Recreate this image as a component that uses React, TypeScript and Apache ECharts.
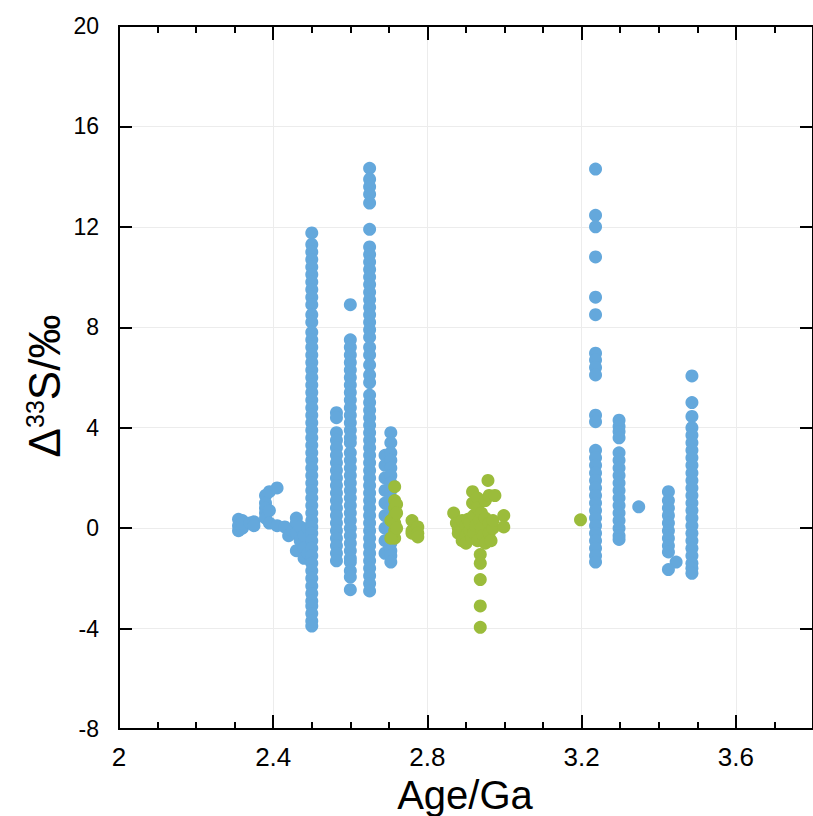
import React, { useEffect, useRef } from "react";
import * as echarts from "echarts";

// Δ33S (‰) against age (Ga)
const blueScattered: [number, number][] = [
  [2.31, 0.35], [2.31, 0.1], [2.31, -0.1], [2.32, 0.3], [2.32, 0.0], [2.32, 0.2],
  [2.34, 0.2], [2.35, 0.25], [2.35, 0.1],
  [2.38, 1.3], [2.38, 1.0], [2.38, 0.8], [2.38, 0.6], [2.38, 0.4],
  [2.39, 1.45], [2.39, 0.7], [2.39, 0.2], [2.41, 1.6],
  [2.41, 0.1], [2.43, 0.05], [2.44, -0.3], [2.45, -0.1],
  [2.46, 0.4], [2.46, 0.2], [2.46, -0.2], [2.46, -0.9], [2.47, -0.5], [2.47, 0.05],
  [2.48, -0.3], [2.48, -0.8], [2.48, -1.2], [2.49, -1.0], [2.49, 0.0],
  [3.348, 0.85], [3.445, -1.35],
];

const blue250 = [
  11.76, 11.3, 11.0, 10.7, 10.4, 10.1, 9.8, 9.5, 9.2, 8.9, 8.5, 8.2, 7.8, 7.5, 7.2,
  6.9, 6.6, 6.3, 6.0, 5.7, 5.4, 5.1, 4.8, 4.5, 4.2, 3.9, 3.6, 3.3, 3.0, 2.7, 2.4,
  2.1, 1.8, 1.5, 1.2, 0.9, 0.6, 0.3, 0.05, -0.2, -0.5, -0.8, -1.1, -1.4, -1.7,
  -2.0, -2.3, -2.6, -2.9, -3.1, -3.4, -3.7, -3.9,
];
const blue256 = [
  4.6, 4.4, 3.8, 3.5, 3.2, 2.9, 2.6, 2.3, 2.0, 1.7, 1.4, 1.1, 0.8, 0.5, 0.2, -0.1,
  -0.4, -0.7, -1.0, -1.3,
];
const blue260 = [
  8.9, 7.5, 7.2, 6.9, 6.6, 6.3, 6.0, 5.7, 5.4, 5.1, 4.8, 4.5, 4.2, 3.9, 3.6, 3.4,
  3.0, 2.7, 2.4, 2.1, 1.8, 1.5, 1.2, 0.9, 0.6, 0.3, 0.0, -0.3, -0.6, -0.9, -1.2,
  -1.35, -1.7, -1.95, -2.45,
];
const blue265 = [
  14.33, 13.9, 13.6, 13.3, 12.95, 11.9, 11.2, 10.9, 10.6, 10.3, 10.0, 9.7, 9.4,
  9.1, 8.8, 8.5, 8.2, 7.9, 7.6, 7.2, 6.9, 6.5, 6.1, 5.8, 5.3, 5.0, 4.7, 4.4, 4.1,
  3.8, 3.5, 3.2, 2.9, 2.6, 2.3, 2.0, 1.7, 1.4, 1.1, 0.8, 0.5, 0.2, -0.1, -0.4,
  -0.7, -1.0, -1.3, -1.6, -1.9, -2.2, -2.5,
];
const blue269 = [2.9, 2.5, 2.0, 1.5, 1.0, 0.5, 0.0, -0.5, -1.0];
const blue270 = [
  3.8, 3.4, 3.0, 2.7, 2.4, 2.1, 1.8, 1.5, 1.2, 0.9, 0.6, 0.3, 0.0, -0.3, -0.6,
  -0.9, -1.1, -1.35,
];
const blue324 = [
  14.3, 12.46, 12.0, 10.8, 9.2, 8.5, 6.97, 6.7, 6.4, 6.1, 4.5, 4.24, 3.1, 2.8,
  2.5, 2.2, 1.9, 1.6, 1.3, 1.0, 0.7, 0.4, 0.1, -0.2, -0.5, -0.8, -1.1, -1.35,
];
const blue330 = [
  4.3, 4.05, 3.85, 3.6, 3.0, 2.7, 2.4, 2.1, 1.8, 1.5, 1.2, 0.9, 0.6, 0.3, 0.0,
  -0.3, -0.45,
];
const blue343 = [1.45, 1.1, 0.8, 0.5, 0.2, -0.1, -0.4, -0.7, -0.95, -1.65];
const blue349 = [
  6.06, 5.0, 4.45, 4.0, 3.7, 3.4, 3.1, 2.8, 2.5, 2.2, 1.9, 1.6, 1.3, 1.0, 0.7,
  0.4, 0.1, -0.2, -0.5, -0.8, -1.1, -1.4, -1.6, -1.8,
];

const greenPoints: [number, number][] = [
  [2.715, 1.65], [2.715, 1.1], [2.715, 0.8], [2.715, 0.5], [2.715, 0.2],
  [2.715, -0.1], [2.715, -0.4], [2.705, 0.3], [2.705, -0.4], [2.72, 0.95],
  [2.72, 0.6], [2.72, 0.0],
  [2.76, 0.3], [2.76, -0.1], [2.76, -0.2], [2.775, 0.05], [2.775, -0.2], [2.775, -0.35],
  [2.868, 0.6], [2.875, 0.2], [2.88, 0.0], [2.88, -0.2], [2.89, -0.5], [2.89, 0.3],
  [2.9, 0.1], [2.9, -0.3], [2.9, -0.6], [2.905, 0.35], [2.91, -0.1], [2.91, 0.2],
  [2.915, -0.4], [2.917, 1.45], [2.917, 1.0], [2.92, 0.5], [2.92, -0.2],
  [2.925, 0.1], [2.93, 1.2], [2.93, 0.8], [2.93, -0.5], [2.935, 0.3],
  [2.937, -1.05], [2.937, -1.4], [2.937, -2.05], [2.937, -3.1], [2.937, -3.95],
  [2.94, 0.0], [2.94, 0.6], [2.945, -0.3], [2.95, 1.1], [2.95, 0.4], [2.95, -0.6],
  [2.957, 1.9], [2.96, 1.3], [2.96, 0.2], [2.96, -0.2], [2.965, -0.5],
  [2.97, 0.0], [2.97, 0.3], [2.975, 1.3], [2.998, 0.5], [2.998, 0.05],
  [3.197, 0.33],
];

const xMajorTicks = [2, 2.4, 2.8, 3.2, 3.6];

const BLUE = "#64a8dc";
const GREEN = "#9bbc3b";
const DOT = 13;

const NARROW = "'Liberation Sans Narrow', 'Liberation Sans', Arial, sans-serif";
const SANS = "'Liberation Sans', Arial, Helvetica, sans-serif";

const column = (age: number, values: number[]): [number, number][] =>
  values.map((v) => [age, v]);

const blueData: [number, number][] = [
  ...blueScattered,
  ...column(2.5, blue250),
  ...column(2.564, blue256),
  ...column(2.6, blue260),
  ...column(2.65, blue265),
  ...column(2.69, blue269),
  ...column(2.705, blue270),
  ...column(3.236, blue324),
  ...column(3.297, blue330),
  ...column(3.425, blue343),
  ...column(3.486, blue349),
];

const black = "#000";

function xAxisDef(position: "top" | "bottom", interval: number, major: boolean) {
  return {
    type: "value",
    position,
    min: 2,
    max: 3.8,
    interval,
    axisLine: { show: true, onZero: false, lineStyle: { color: black, width: 2 } },
    axisTick: {
      show: true,
      inside: true,
      length: major ? 14 : 7,
      lineStyle: { color: black, width: 2 },
    },
    splitLine: {
      show: major && position === "bottom",
      lineStyle: { color: "#ececec", width: 1 },
    },
    axisLabel: {
      show: major && position === "bottom",
      showMaxLabel: false,
      margin: 15,
      fontSize: 26,
      lineHeight: 26,
      color: black,
      fontFamily: NARROW,
      formatter: (v: number) => {
        const t = xMajorTicks.find((m) => Math.abs(m - v) < 1e-6);
        return t === undefined ? "" : String(t);
      },
    },
  };
}

function yAxisDef(position: "left" | "right") {
  return {
    type: "value",
    position,
    min: -8,
    max: 20,
    interval: 4,
    axisLine: { show: true, onZero: false, lineStyle: { color: black, width: 2 } },
    axisTick: { show: true, inside: true, length: 13, lineStyle: { color: black, width: 2 } },
    splitLine: { show: position === "left", lineStyle: { color: "#ececec", width: 1 } },
    axisLabel: {
      show: position === "left",
      showMaxLabel: true,
      margin: 20,
      fontSize: 23,
      color: black,
      fontFamily: SANS,
    },
  };
}

export default function App() {
  const ref = useRef<HTMLDivElement>(null);

  useEffect(() => {
    if (!ref.current) return;
    const chart = echarts.init(ref.current, null, { renderer: "svg" });
    chart.setOption({
      animation: false,
      backgroundColor: "#fff",
      grid: { left: 119, top: 26, width: 705, height: 703, containLabel: false },
      xAxis: [
        xAxisDef("bottom", 0.4, true),
        xAxisDef("bottom", 0.1, false),
        xAxisDef("top", 0.4, true),
        xAxisDef("top", 0.1, false),
      ],
      yAxis: [yAxisDef("left"), yAxisDef("right")],
      series: [
        {
          type: "scatter",
          xAxisIndex: 0,
          yAxisIndex: 0,
          symbol: "circle",
          symbolSize: DOT,
          itemStyle: { color: BLUE, opacity: 1 },
          data: blueData,
          z: 2,
        },
        {
          type: "scatter",
          xAxisIndex: 0,
          yAxisIndex: 0,
          symbol: "circle",
          symbolSize: DOT,
          itemStyle: { color: GREEN, opacity: 1 },
          data: greenPoints,
          z: 3,
        },
      ],
      graphic: [
        {
          type: "text",
          x: 465,
          y: 775,
          style: {
            text: "Age/Ga",
            fontSize: 40,
            lineHeight: 40,
            align: "center",
            verticalAlign: "top",
            fill: black,
            fontFamily: NARROW,
          },
        },
        {
          type: "text",
          x: 44,
          y: 386,
          rotation: Math.PI / 2,
          style: {
            text: "{a|Δ}{s|33}{a|S/‰}",
            align: "center",
            verticalAlign: "middle",
            fill: black,
            rich: {
              a: { fontSize: 44, fontFamily: SANS, fill: black },
              s: {
                fontSize: 25,
                fontFamily: NARROW,
                fill: black,
                verticalAlign: "top",
                padding: [0, 0, 16, 0],
              },
            },
          },
        },
      ],
    });
    return () => chart.dispose();
  }, []);

  return (
    <div
      ref={ref}
      style={{ position: "absolute", left: 0, top: 0, width: 813, height: 816 }}
    />
  );
}
